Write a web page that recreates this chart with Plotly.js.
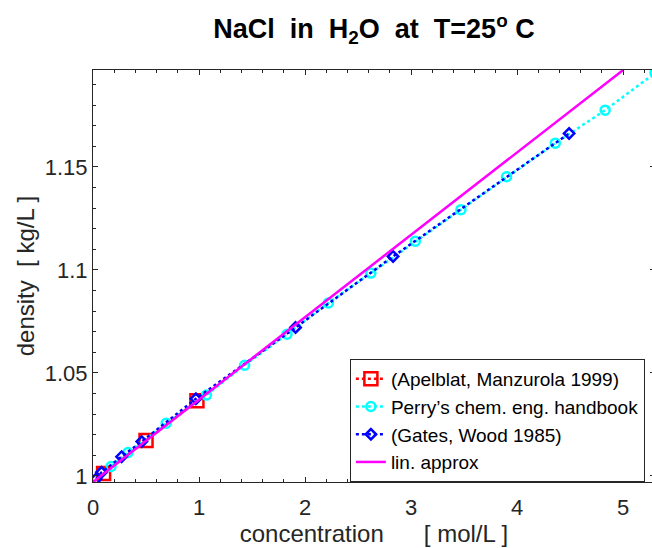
<!DOCTYPE html>
<html><head><meta charset="utf-8">
<script src="https://cdn.plot.ly/plotly-3.0.1.min.js"></script>
<style>html,body{margin:0;padding:0;overflow:hidden;background:#fff}</style>
</head><body><div id="chart" style="width:655px;height:548px"></div>
<script>
const apelX=[0.1,0.5,0.98];
const apelY=[1.0011,1.0171,1.0364];
const perryX=[0.17,0.33,0.69,1.07,1.43,1.83,2.22,2.62,3.04,3.47,3.9,4.36,4.83,5.3];
const perryY=[1.0045,1.0113,1.0255,1.0392,1.0537,1.0687,1.0839,1.0984,1.1139,1.1292,1.1452,1.1615,1.1775,1.1955];
const gatesX=[0.03,0.08,0.27,0.46,0.97,1.91,2.83,4.49];
const gatesY=[0.9985,1.0017,1.0093,1.0166,1.0374,1.0720,1.1065,1.1662];
const linX=[0,5];
const linY=[0.997,1.197];
const xTickVals=[0,1,2,3,4,5];
const yTickVals=[1,1.05,1.1,1.15];
const yTickText=['1','1.05','1.1','1.15'];

const nb='\u00A0';
const traces=[
 {x:apelX,y:apelY,name:'(Apelblat, Manzurola 1999)',mode:'lines+markers',
  line:{color:'#ff0000',width:2.5,dash:'dot'},
  marker:{symbol:'square-open',size:13,color:'#ff0000',line:{width:2.5,color:'#ff0000'}}},
 {x:perryX,y:perryY,name:'Perry\u2019s chem. eng. handbook',mode:'lines+markers',
  line:{color:'#00ffff',width:2.5,dash:'dot'},
  marker:{symbol:'circle-open',size:9,color:'#00ffff',line:{width:2.5,color:'#00ffff'}}},
 {x:gatesX,y:gatesY,name:'(Gates, Wood 1985)',mode:'lines+markers',
  line:{color:'#0000ff',width:2.5,dash:'dot'},
  marker:{symbol:'diamond-open',size:8,color:'#0000ff',line:{width:2.5,color:'#0000ff'}}},
 {x:linX,y:linY,name:'lin. approx',mode:'lines',
  line:{color:'#ff00ff',width:2.5}}
];
const axCol='#262626';
const layout={
 width:655,height:548,
 margin:{l:93,r:0,t:70,b:66},
 paper_bgcolor:'#fff',plot_bgcolor:'#fff',
 font:{family:'Liberation Sans, Arial, sans-serif',color:axCol},
 title:{text:'<b>NaCl'+nb+nb+'in'+nb+nb+'H<sub>2</sub>O'+nb+nb+'at'+nb+nb+'T=25<sup>o</sup>'+nb+'C</b>',
  font:{family:'Liberation Sans, Arial, sans-serif',size:27,color:'#000'},
  x:0.571,xanchor:'center',y:0.947,yanchor:'middle'},
 xaxis:{range:[0,5.3],tickvals:xTickVals,ticks:'inside',ticklen:5,tickcolor:axCol,
  showline:true,linecolor:axCol,linewidth:1,mirror:'ticks',showgrid:false,zeroline:false,
  tickfont:{size:22,color:axCol},ticklabelstandoff:6,
  minor:{ticks:'inside',ticklen:3,dtick:0.2,tickcolor:axCol,showgrid:false},
  title:{text:'concentration'+nb+nb+nb+nb+nb+nb+'[ mol/L ]',font:{size:24,color:axCol},standoff:2}},
 yaxis:{range:[0.997,1.197],tickvals:yTickVals,ticktext:yTickText,ticks:'inside',ticklen:5,tickcolor:axCol,
  showline:true,linecolor:axCol,linewidth:1,mirror:'ticks',showgrid:false,zeroline:false,
  tickfont:{size:22,color:axCol},
  minor:{ticks:'inside',ticklen:3,dtick:0.01,tickcolor:axCol,showgrid:false},
  title:{text:'density'+nb+nb+'[ kg/L ]',font:{size:24,color:axCol},standoff:3}},
 legend:{x:0.982,y:0.0,xanchor:'right',yanchor:'bottom',bgcolor:'#fff',
  bordercolor:axCol,borderwidth:1,font:{size:19,color:'#000'},tracegroupgap:0,itemwidth:30},
 showlegend:true
};
Plotly.newPlot('chart',traces,layout,{displayModeBar:false,staticPlot:true});
</script></body></html>
